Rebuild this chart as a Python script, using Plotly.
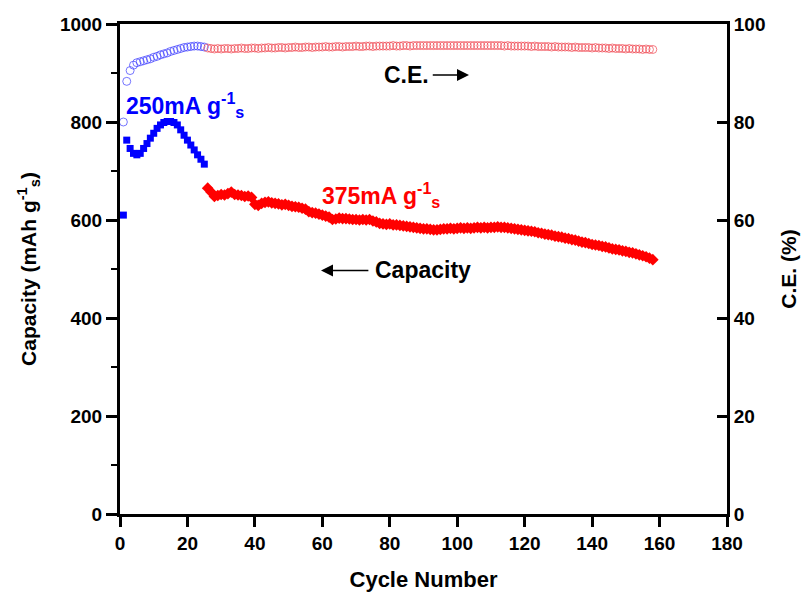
import plotly.graph_objects as go

# ---- data ----
blue_cycles = list(range(1, 26))
blue_capacity = [610, 763, 746, 736, 733, 736, 746, 756, 767, 777, 787, 794, 799,
                 801, 801, 799, 794, 784, 773, 763, 753, 743, 733, 724, 714]
blue_ce = [80.0, 88.3, 90.5, 91.6, 92.1, 92.3, 92.5, 92.7, 92.9, 93.2, 93.4, 93.7,
           93.9, 94.1, 94.4, 94.6, 94.8, 95.0, 95.2, 95.3, 95.4, 95.5, 95.5, 95.4, 95.3]

red_cycles = list(range(26, 159))
red_capacity = [665, 657, 648, 650, 652, 651, 654, 657, 652, 651, 650, 648, 649, 646,
                632, 630, 634, 636, 637, 635, 634, 633, 631, 632, 630, 628, 627, 626,
                624, 622, 617, 615, 614, 612, 610, 608, 606, 601, 602, 604, 603, 603,
                602, 601, 601, 600, 601, 600, 601, 598, 596, 593, 592, 591, 592, 590,
                590, 589, 588, 587, 586, 585, 584, 583, 582, 582, 581, 580, 580, 581,
                582, 582, 583, 582, 583, 584, 583, 584, 583, 584, 585, 584, 585, 584,
                585, 585, 586, 585, 585, 584, 583, 582, 581, 580, 579, 578, 577, 576,
                574, 573, 571, 570, 569, 567, 566, 565, 563, 562, 560, 559, 557, 555,
                554, 552, 550, 549, 548, 546, 545, 543, 541, 540, 539, 537, 536, 534,
                533, 531, 529, 527, 525, 522, 519]
red_ce = [95.1, 95.0, 94.9, 95.0, 94.9, 95.0, 95.0, 94.9, 95.0, 95.0, 95.1, 95.0,
          95.0, 95.1, 95.1, 95.0, 95.1, 95.1, 95.2, 95.1, 95.1, 95.2, 95.2, 95.1,
          95.2, 95.2, 95.3, 95.2, 95.2, 95.3, 95.3, 95.2, 95.3, 95.3, 95.3, 95.4,
          95.3, 95.3, 95.4, 95.4, 95.3, 95.4, 95.4, 95.4, 95.5, 95.4, 95.4, 95.5,
          95.5, 95.4, 95.5, 95.5, 95.5, 95.5, 95.5, 95.6, 95.5, 95.5, 95.6, 95.6,
          95.5, 95.6, 95.6, 95.6, 95.6, 95.6, 95.6, 95.6, 95.6, 95.6, 95.6, 95.6,
          95.6, 95.6, 95.6, 95.6, 95.6, 95.6, 95.6, 95.6, 95.6, 95.6, 95.6, 95.6,
          95.6, 95.6, 95.6, 95.6, 95.5, 95.6, 95.5, 95.5, 95.5, 95.5, 95.5, 95.5,
          95.4, 95.5, 95.4, 95.4, 95.4, 95.4, 95.3, 95.4, 95.3, 95.3, 95.3, 95.3,
          95.2, 95.3, 95.2, 95.2, 95.2, 95.2, 95.1, 95.2, 95.1, 95.1, 95.1, 95.0,
          95.1, 95.0, 95.0, 95.0, 94.9, 95.0, 94.9, 94.9, 94.9, 94.8, 94.9, 94.8, 94.8]

x_ticks = [0, 20, 40, 60, 80, 100, 120, 140, 160, 180]
y_ticks = [0, 200, 400, 600, 800, 1000]
y2_ticks = [0, 20, 40, 60, 80, 100]

FONT = "Liberation Sans, Arial, sans-serif"

fig = go.Figure()

fig.add_trace(go.Scatter(
    x=blue_cycles, y=blue_ce, mode="markers", yaxis="y2",
    marker=dict(symbol="circle-open", size=8, color="rgba(60,60,255,0.7)",
                line=dict(width=1)), showlegend=False))
fig.add_trace(go.Scatter(
    x=red_cycles, y=red_ce, mode="markers", yaxis="y2",
    marker=dict(symbol="circle-open", size=8, color="rgba(240,70,80,0.7)",
                line=dict(width=1)), showlegend=False))
fig.add_trace(go.Scatter(
    x=blue_cycles, y=blue_capacity, mode="markers",
    marker=dict(symbol="square", size=7, color="#0000FF"), showlegend=False))
fig.add_trace(go.Scatter(
    x=red_cycles, y=red_capacity, mode="markers",
    marker=dict(symbol="diamond", size=9, color="#FF0000"), showlegend=False))

axis_font = dict(family=FONT, size=19, color="black")
title_font = dict(family=FONT, size=21, color="black")

# page has an 8px body margin; figure sized to fit the 809x592 window
fig.update_layout(
    width=801, height=584,
    margin=dict(l=112, r=82, t=16, b=78),
    paper_bgcolor="white", plot_bgcolor="white",
    font=dict(family=FONT),
    xaxis=dict(
        range=[0, 180], tickvals=x_ticks, ticktext=[f"<b>{v}</b>" for v in x_ticks],
        showline=True, linewidth=3, linecolor="black", mirror=True,
        ticks="outside", ticklen=10, tickwidth=3, tickcolor="black",
        showgrid=False, zeroline=False, tickfont=axis_font, automargin=False,
        title=dict(text="<b>Cycle Number</b>", font=dict(family=FONT, size=22, color="black"),
                   standoff=20),
    ),
    yaxis=dict(
        range=[0, 1000], tickvals=y_ticks, ticktext=[f"<b>{v}</b>" for v in y_ticks],
        showline=True, linewidth=3, linecolor="black",
        ticks="outside", ticklen=11, tickwidth=3, tickcolor="black",
        minor=dict(ticks="outside", ticklen=6, tickwidth=2, tickcolor="black", dtick=100,
                   showgrid=False),
        showgrid=False, zeroline=False, tickfont=axis_font, automargin=False,
        title=dict(text="<b>Capacity (mAh g<sup>-1</sup><sub>s</sub>)</b>", font=title_font,
                   standoff=18),
    ),
    yaxis2=dict(
        range=[0, 100], tickvals=y2_ticks, ticktext=[f"<b>{v}</b>" for v in y2_ticks],
        overlaying="y", side="right",
        showline=True, linewidth=3, linecolor="black",
        ticks="inside", ticklen=10, tickwidth=3, tickcolor="black",
        showgrid=False, zeroline=False, tickfont=axis_font, automargin=False,
        title=dict(text="<b>C.E. (%)</b>", font=title_font, standoff=17),
    ),
)

ANN = 23
fig.add_annotation(x=19.3, y=835, xref="x", yref="y", showarrow=False,
                   text="<b>250mA g<sup>-1</sup><sub>s</sub></b>",
                   font=dict(family=FONT, size=ANN, color="#0000FF"))
fig.add_annotation(x=77.4, y=651, xref="x", yref="y", showarrow=False,
                   text="<b>375mA g<sup>-1</sup><sub>s</sub></b>",
                   font=dict(family=FONT, size=ANN, color="#FF0000"))
fig.add_annotation(x=85.1, y=896, xref="x", yref="y", showarrow=False,
                   text="<b>C.E.</b>", font=dict(family=FONT, size=ANN, color="black"))
fig.add_annotation(x=103.5, y=896, ax=92.3, ay=896, xref="x", yref="y",
                   axref="x", ayref="y", text="", showarrow=True,
                   arrowhead=2, arrowsize=1.6, arrowwidth=1.5, arrowcolor="black")
fig.add_annotation(x=89.9, y=497, xref="x", yref="y", showarrow=False,
                   text="<b>Capacity</b>", font=dict(family=FONT, size=ANN, color="black"))
fig.add_annotation(x=59.6, y=497, ax=74.1, ay=497, xref="x", yref="y",
                   axref="x", ayref="y", text="", showarrow=True,
                   arrowhead=2, arrowsize=1.6, arrowwidth=1.5, arrowcolor="black")

fig.write_html("out.html")
